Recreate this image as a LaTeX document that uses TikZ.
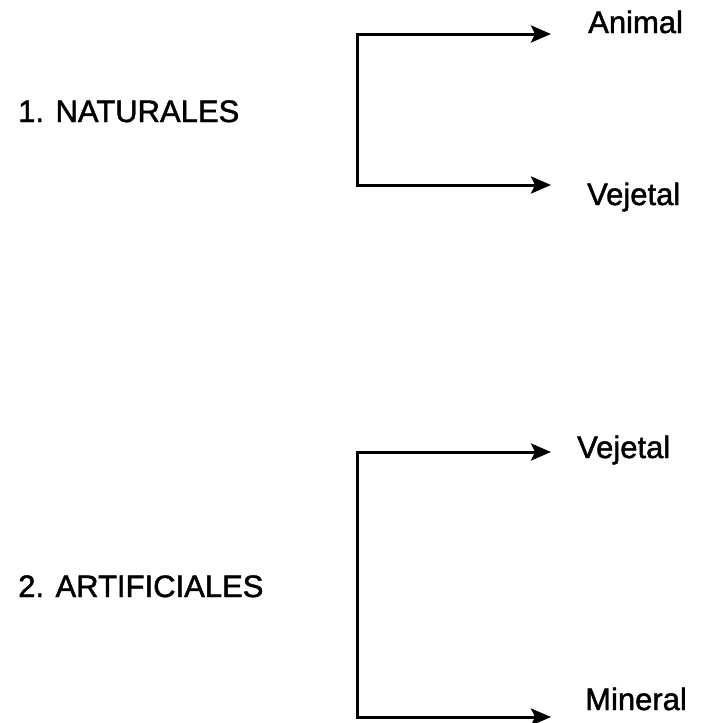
\documentclass[tikz,border=0pt]{standalone}
\usepackage{fontspec}
\setmainfont[FakeBold=1.5]{Liberation Sans}
\usetikzlibrary{arrows.meta}
\tikzset{
  lbl/.style={font=\fontsize{31}{36}\selectfont, inner sep=0pt, anchor=base west},
  brk/.style={draw=black, line width=3pt, line join=miter,
    arrows={Stealth[length=20pt,width=17pt,inset=4pt]-Stealth[length=20pt,width=17pt,inset=4pt]}}
}
\begin{document}
\begin{tikzpicture}[x=1pt,y=-1pt]
\useasboundingbox[fill=white] (0,0) rectangle (703,723);
% group 1
\node[lbl] (nat) at (18,122) {1. NATURALES};
\coordinate (n1) at (357,34);
\coordinate (n2) at (357,185);
\coordinate (nt1) at (551,34);
\coordinate (nt2) at (551,185);
\node[lbl] (animal) at (588,33) {Animal};
\node[lbl] (vej1) at (587,205) {Vejetal};
\path[brk] (nt1) -- (n1) -- (n2) -- (nt2);
% group 2
\node[lbl] (art) at (18,597) {2. ARTIFICIALES};
\coordinate (m1) at (357,452);
\coordinate (m2) at (357,717);
\coordinate (mt1) at (551,452);
\coordinate (mt2) at (551,717);
\node[lbl] (vej2) at (577,458) {Vejetal};
\node[lbl] (mineral) at (585,710) {Mineral};
\path[brk] (mt1) -- (m1) -- (m2) -- (mt2);
\end{tikzpicture}
\end{document}
